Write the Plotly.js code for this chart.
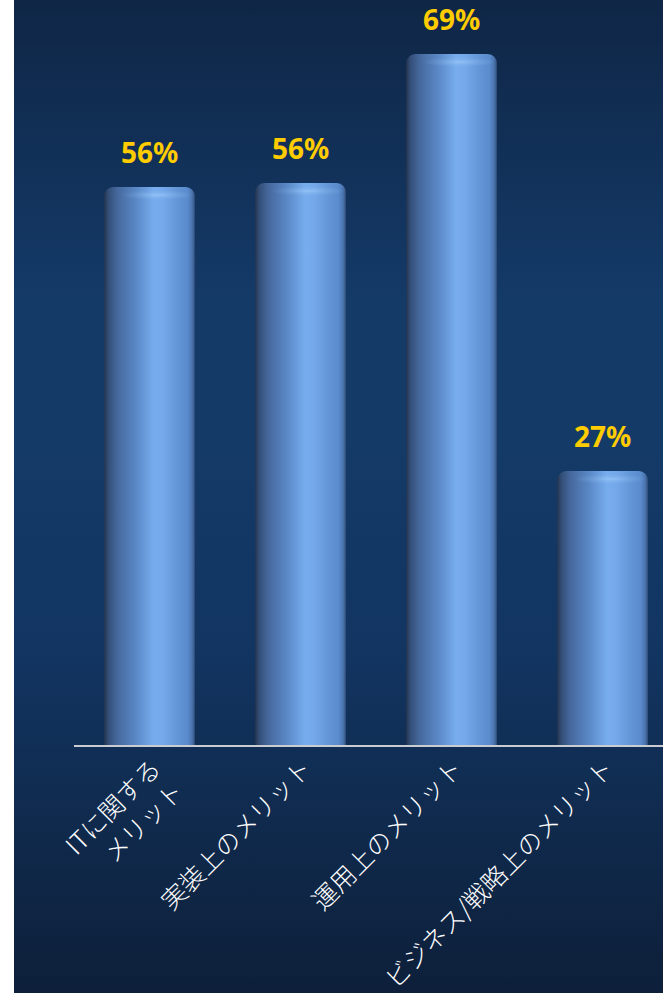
<!DOCTYPE html>
<html><head><meta charset="utf-8">
<script src="https://cdn.plot.ly/plotly-3.0.1.min.js"></script>
<style>
html,body{margin:0;padding:0;background:#fff;overflow:hidden;}
#bg{position:absolute;left:14px;top:0;width:649px;height:993px;
background:linear-gradient(to bottom,#0f2646 0%,#143a68 30%,#143a68 45%,#123562 65%,#0f2747 88%,#0d1f3a 100%);}
#chart{position:absolute;left:0;top:0;width:663px;height:993px;}
</style></head><body>
<div id="bg"></div><div id="chart"></div>
<script>
const categories = ["ITに関する<br>メリット", "実装上のメリット", "運用上のメリット", "ビジネス/戦略上のメリット"];
const values = [55.8, 56.2, 69.1, 27.4];
const valueLabels = ["56%", "56%", "69%", "27%"];

const trace = {
  type: 'bar',
  x: categories,
  y: values,
  marker: {color: '#5f90d2', cornerradius: 9, line: {width: 0}},
  hoverinfo: 'none'
};

const layout = {
  width: 663, height: 993,
  margin: {l: 74, r: 0, t: 0, b: 248},
  paper_bgcolor: 'rgba(0,0,0,0)',
  plot_bgcolor: 'rgba(0,0,0,0)',
  showlegend: false,
  bargap: 0.4,
  xaxis: {
    range: [-0.5, 3.4], tickangle: -45, showline: true, linecolor: '#c9cdd2', linewidth: 2,
    ticks: '', showgrid: false, zeroline: false, ticklabelstandoff: -3, ticklabelshift: 4,
    tickfont: {family: 'Noto Sans CJK JP', size: 25, weight: 300, color: '#ffffff'}
  },
  yaxis: {range: [0, 74.5], visible: false, showgrid: false, zeroline: false},
  annotations: values.map((v, i) => ({
    x: i, y: v, xref: 'x', yref: 'y', text: valueLabels[i], showarrow: false,
    yanchor: 'bottom', yshift: 14,
    font: {family: 'Liberation Sans Narrow, Noto Sans', size: 28, weight: 'bold', color: '#ffcc00'}
  }))
};

Plotly.newPlot('chart', [trace], layout, {staticPlot: true}).then(() => {
  const svgNS = 'http://www.w3.org/2000/svg';
  const svg = document.querySelector('#chart .main-svg');
  let defs = svg.querySelector('defs');
  if (!defs) { defs = document.createElementNS(svgNS, 'defs'); svg.insertBefore(defs, svg.firstChild); }
  const g = document.createElementNS(svgNS, 'linearGradient');
  g.setAttribute('id', 'cyl'); g.setAttribute('x1', '0'); g.setAttribute('x2', '1'); g.setAttribute('y1', '0'); g.setAttribute('y2', '0');
  const stops = [[0, '#26354f'], [0.05, '#34507a'], [0.15, '#46699e'], [0.35, '#5a88c6'], [0.55, '#77adee'],
    [0.65, '#74a8ea'], [0.8, '#6497d8'], [0.92, '#5a8bcc'], [0.97, '#4a74ae'], [1, '#34507c']];
  stops.forEach(([o, c]) => {
    const s = document.createElementNS(svgNS, 'stop');
    s.setAttribute('offset', o); s.setAttribute('stop-color', c); g.appendChild(s);
  });
  defs.appendChild(g);
  const h = document.createElementNS(svgNS, 'radialGradient');
  h.setAttribute('id', 'cap'); h.setAttribute('cx', '0.55'); h.setAttribute('cy', '0.5'); h.setAttribute('r', '0.5');
  [[0, 'rgba(180,220,255,0.45)'], [0.5, 'rgba(160,205,250,0.2)'], [1, 'rgba(150,200,250,0)']].forEach(([o, c]) => {
    const s = document.createElementNS(svgNS, 'stop');
    s.setAttribute('offset', o); s.setAttribute('stop-color', c); h.appendChild(s);
  });
  defs.appendChild(h);
  document.querySelectorAll('#chart .bars path').forEach(p => {
    p.style.fill = 'url(#cyl)';
    const bb = p.getBBox();
    const e = document.createElementNS(svgNS, 'ellipse');
    e.setAttribute('cx', bb.x + bb.width * 0.55); e.setAttribute('rx', bb.width * 0.42);
    e.setAttribute('cy', bb.y + 8); e.setAttribute('ry', 5);
    e.setAttribute('fill', 'url(#cap)');
    p.parentNode.appendChild(e);
  });
});
</script>
</body></html>
